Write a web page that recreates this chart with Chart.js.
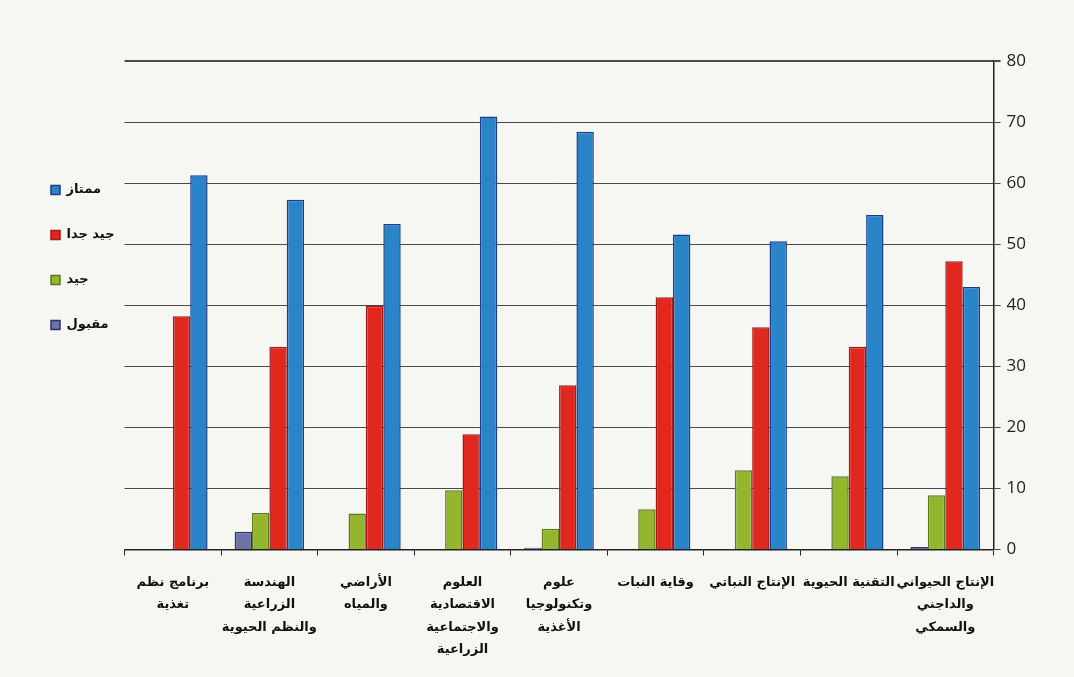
<!DOCTYPE html>
<html>
<head>
<meta charset="utf-8">
<script src="https://cdn.jsdelivr.net/npm/chart.js@4"></script>
<style>
  html, body { margin: 0; padding: 0; background: #f6f6f3; }
  #wrap { width: 1074px; height: 677px; }
</style>
</head>
<body>
<div id="wrap"><canvas id="gradesChart" width="1074" height="677"></canvas></div>
<script>
// categories (left to right as in the picture)
const programs = [
  ['برنامج نظم', 'تغذية'],
  ['الهندسة', 'الزراعية', 'والنظم الحيوية'],
  ['الأراضي', 'والمياه'],
  ['العلوم', 'الاقتصادية', 'والاجتماعية', 'الزراعية'],
  ['علوم', 'وتكنولوجيا', 'الأغذية'],
  ['وقاية النبات'],
  ['الإنتاج النباتي'],
  ['التقنية الحيوية'],
  ['الإنتاج الحيواني', 'والداجني', 'والسمكي']
];

// series values (%)
const acceptable = [0, 2.9, 0, 0, 0.3, 0, 0, 0, 0.4];      // مقبول
const good = [0, 6.0, 5.9, 9.7, 3.4, 6.6, 13.0, 12.0, 8.9];  // جيد
const veryGood = [38.2, 33.2, 39.9, 18.9, 26.9, 41.3, 36.4, 33.2, 47.2]; // جيد جدا
const excellent = [61.3, 57.3, 53.3, 70.9, 68.4, 51.6, 50.5, 54.8, 43.0]; // ممتاز

// tick labels
const yTicks = [0, 10, 20, 30, 40, 50, 60, 70, 80];

const arabicFont = "'DejaVu Sans', sans-serif";

const ctx = document.getElementById('gradesChart').getContext('2d');
const gradesChart = new Chart(ctx, {
  type: 'bar',
  data: {
    labels: programs,
    datasets: [{
      label: 'مقبول',
      data: acceptable,
      backgroundColor: '#6d72a6',
      borderColor: '#2c336e',
      borderWidth: 1.5
    }, {
      label: 'جيد',
      data: good,
      backgroundColor: '#94b62c',
      borderColor: '#5f7a1d',
      borderWidth: 1.5
    }, {
      label: 'جيد جدا',
      data: veryGood,
      backgroundColor: '#e1281f',
      borderColor: '#a31a16',
      borderWidth: 1.5
    }, {
      label: 'ممتاز',
      data: excellent,
      backgroundColor: '#2a85c8',
      borderColor: '#1b3d8e',
      borderWidth: 1.5
    }]
  },
  options: {
    responsive: false,
    animation: false,
    categoryPercentage: 0.72,
    barPercentage: 1,
    layout: {
      padding: { left: 19, right: 42, top: 61, bottom: 0 }
    },
    plugins: {
      tooltip: { enabled: false },
      legend: {
        position: 'left',
        align: 'start',
        reverse: true,
        title: {
          display: true,
          text: ' ',
          padding: { top: 76, bottom: 0 }
        },
        labels: {
          boxWidth: 9,
          boxHeight: 9,
          padding: 32,
          color: '#111',
          font: { family: arabicFont, size: 13, weight: 'bold' }
        }
      }
    },
    scales: {
      x: {
        grid: {
          display: true,
          offset: true,
          drawOnChartArea: false,
          drawTicks: true,
          tickLength: 6,
          color: '#222'
        },
        border: { display: true, color: '#222', width: 1.5 },
        ticks: {
          autoSkip: false,
          maxRotation: 0,
          color: '#111',
          padding: 16,
          font: { family: arabicFont, size: 13, weight: 'bold', lineHeight: 1.72 }
        }
      },
      y: {
        position: 'right',
        min: 0,
        max: 80,
        afterBuildTicks: function(scale) {
          scale.ticks = yTicks.map(v => ({ value: v }));
        },
        grid: {
          color: '#4a4a4a',
          lineWidth: c => (c.tick && c.tick.value === 80 ? 2 : 1),
          drawTicks: true,
          tickLength: 7
        },
        border: { display: true, color: '#222', width: 1.5 },
        ticks: {
          color: '#222',
          padding: 6,
          font: { family: "'Open Sans', sans-serif", size: 17 }
        }
      }
    }
  }
});
</script>
</body>
</html>
